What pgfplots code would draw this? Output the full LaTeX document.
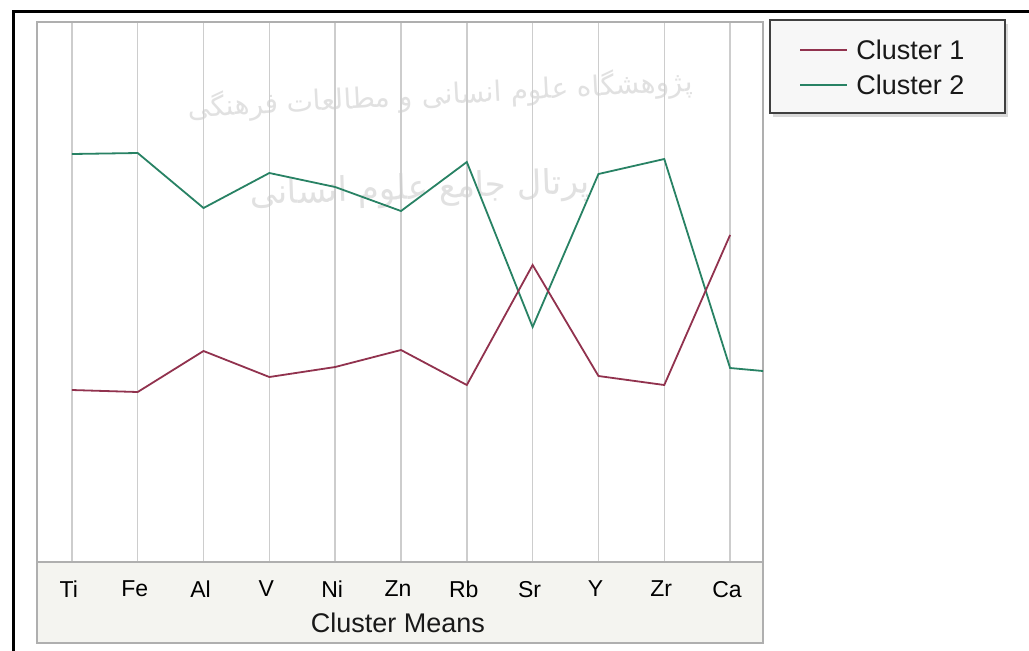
\documentclass[border=0pt]{standalone}
\usepackage{pgfplots}
\pgfplotsset{compat=1.18}
\usepackage{fontspec}
\setmainfont{Liberation Sans}
\newfontfamily\arabicfont[Script=Arabic]{DejaVu Sans}
\TeXXeTstate=1
\definecolor{cA}{RGB}{145,50,78}
\definecolor{cB}{RGB}{40,130,100}
\definecolor{gridc}{RGB}{205,205,205}
\definecolor{framec}{RGB}{175,175,175}
\definecolor{stripc}{RGB}{244,244,240}
\definecolor{wmark}{RGB}{225,225,225}
\begin{document}
\begin{tikzpicture}
\begin{scope}[x=0.5pt,y=-0.5pt]
\fill[white] (0,0) rectangle (1029,650);
\useasboundingbox (0,0) rectangle (1029,650);
% tick-label strip
\fill[stripc] (37,562) rectangle (763,643);
\draw[framec, line width=1pt] (37,562) -- (37,643) -- (763,643) -- (763,562);
% watermark
\node[wmark, rotate=3, font=\arabicfont\fontsize{14}{17}\selectfont] at (440,95) {\beginR پژوهشگاه علوم انسانی و مطالعات فرهنگی\endR};
\node[wmark, rotate=2, font=\arabicfont\fontsize{17}{20}\selectfont] at (420,190) {\beginR پرتال جامع علوم انسانی\endR};
\end{scope}
\begin{axis}[at={(18.5pt,-281pt)}, anchor=south west, scale only axis,
  width=363pt, height=270pt,
  xmin=-0.53, xmax=10.5, ymin=0, ymax=540,
  xtick={0,...,10}, xticklabels={Ti,Fe,Al,V,Ni,Zn,Rb,Sr,Y,Zr,Ca},
  ytick=\empty, xmajorgrids, grid style={gridc, line width=0.75pt},
  major tick length=0pt,
  axis line style={framec, line width=1.2pt},
  tick label style={font=\fontsize{11.5}{13}\selectfont, text=black},
  xticklabel style={yshift=-6pt, xshift=-1.5pt},
  clip=true]
\addplot[cB, line width=0.9pt] coordinates {(0,408) (1,409) (2,354) (3,389) (4,375) (5,351) (6,400) (7,235) (8,388) (9,403) (10,194) (11,188)};
\addplot[cA, line width=0.9pt] coordinates {(0,172) (1,170) (2,211) (3,185) (4,195) (5,212) (6,177) (7,297) (8,186) (9,177) (10,327)};
\end{axis}
\begin{scope}[x=0.5pt,y=-0.5pt]
\node[font=\fontsize{13.5}{16}\selectfont, text=black!90] at (398,623) {Cluster Means};
% legend
\fill[black!15] (773,24) rectangle (1008,117);
\draw[black!75, fill=black!3, line width=1pt] (770,20) rectangle (1005,113);
\draw[cA, line width=1.2pt] (800,50) -- (847,50);
\draw[cB, line width=1.2pt] (800,85) -- (847,85);
\node[anchor=west, inner sep=0pt, font=\fontsize{13.5}{16}\selectfont, text=black!90] at (856,50) {Cluster 1};
\node[anchor=west, inner sep=0pt, font=\fontsize{13.5}{16}\selectfont, text=black!90] at (856,85) {Cluster 2};
% outer frame
\begin{scope}
\clip (0,0) rectangle (1029,650);
\draw[black, line width=1.5pt] (13,660) -- (13,11) -- (1040,11);
\end{scope}
\end{scope}
\end{tikzpicture}
\end{document}
